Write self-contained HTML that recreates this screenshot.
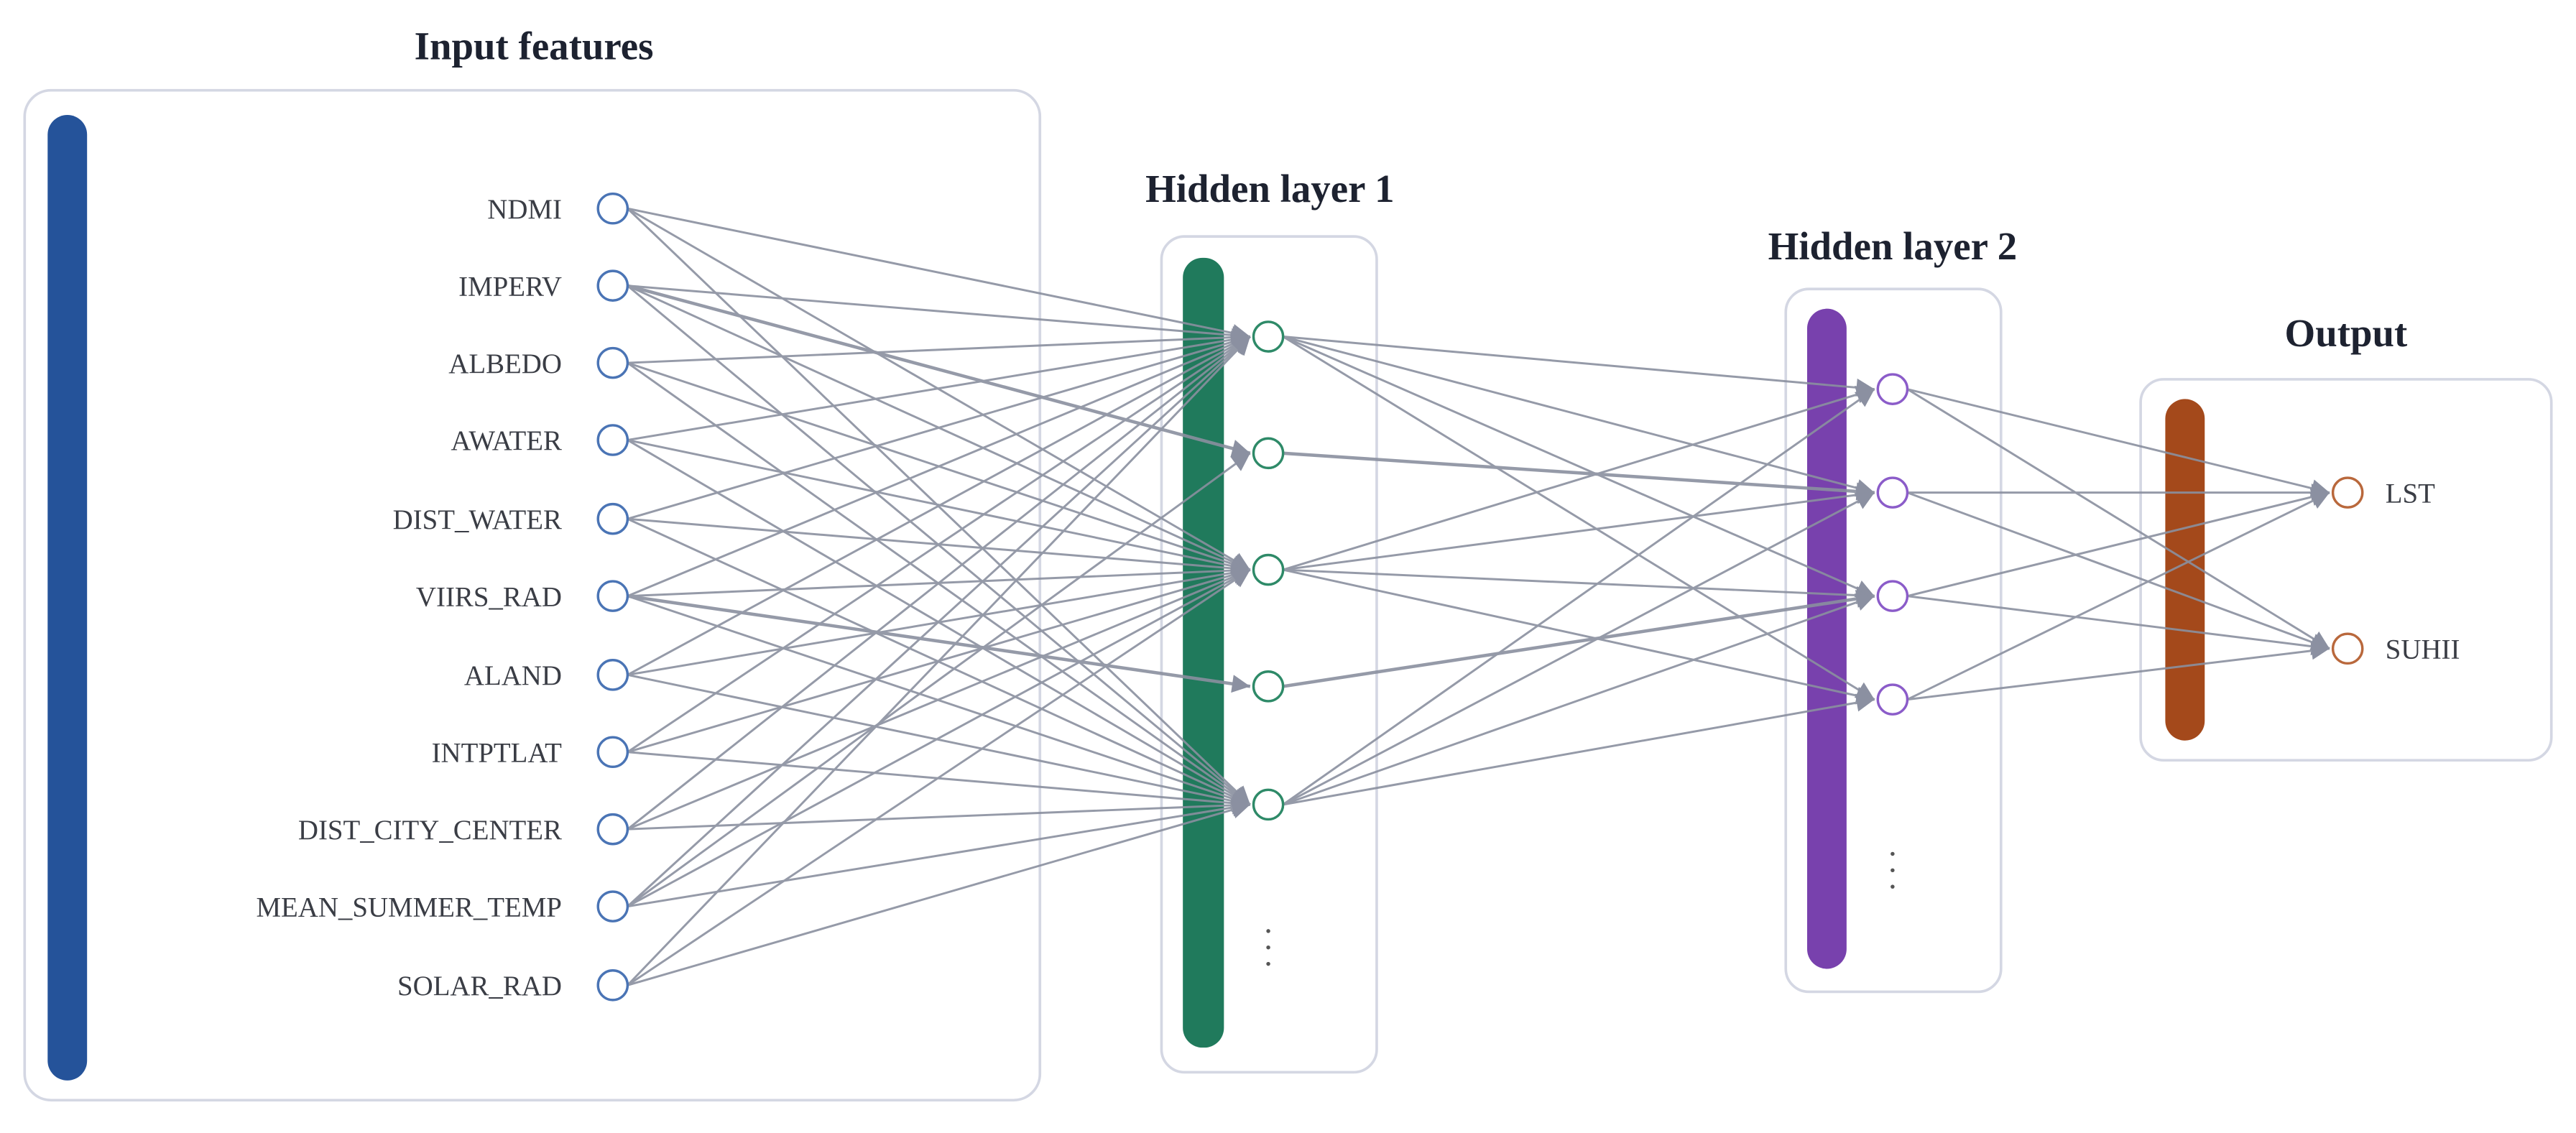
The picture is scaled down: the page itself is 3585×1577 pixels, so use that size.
<!DOCTYPE html>
<html><head><meta charset="utf-8"><style>
html,body{margin:0;padding:0;background:#fff;}
svg{display:block;}
</style></head><body>
<svg width="3585" height="1577" viewBox="0 0 1568 690" preserveAspectRatio="none" xmlns="http://www.w3.org/2000/svg">
<defs>
<marker id="a" viewBox="0 0 10 10" refX="10" refY="5" markerWidth="13" markerHeight="11" orient="auto" markerUnits="userSpaceOnUse">
<path d="M0,0 L10,5 L0,10 z" fill="#7f8597"/>
</marker>
</defs>
<rect x="0" y="0" width="1568" height="690" fill="#fff"/>
<g fill="none" stroke="#d4d7e3" stroke-width="1.6">
<rect x="15" y="55" width="618" height="615" rx="16"/>
<rect x="707" y="144" width="131" height="509" rx="14"/>
<rect x="1087" y="176" width="131" height="428" rx="14"/>
<rect x="1303" y="231" width="250" height="232" rx="14"/>
</g>
<rect x="29" y="70" width="24" height="588" rx="12" fill="#25539a"/>
<rect x="720" y="157" width="25" height="481" rx="12" fill="#207a5c"/>
<rect x="1100" y="188" width="24" height="402" rx="12" fill="#7841ad"/>
<rect x="1318" y="243" width="24" height="208" rx="12" fill="#a4491b"/>
<g font-family="'Liberation Serif',serif" font-weight="bold" font-size="24" fill="#1d2230" text-anchor="middle">
<text x="325" y="36">Input features</text>
<text x="773" y="123">Hidden layer 1</text>
<text x="1152" y="158">Hidden layer 2</text>
<text x="1428" y="211">Output</text>
</g>
<g id="edges" stroke="#8a909f" stroke-width="1.3" fill="none" marker-end="url(#a)" opacity="0.9"></g>
<g id="nodes"></g>
<g font-family="'Liberation Serif',serif" font-size="17" fill="#3a3d45" text-anchor="end" id="labels"></g>
<g font-family="'Liberation Serif',serif" font-size="17" fill="#3a3d45">
<text x="1452" y="306">LST</text>
<text x="1452" y="401">SUHII</text>
</g>
<g fill="#555">
<circle cx="772" cy="567" r="1.2"/><circle cx="772" cy="577" r="1.2"/><circle cx="772" cy="587" r="1.2"/>
<circle cx="1152" cy="520" r="1.2"/><circle cx="1152" cy="530" r="1.2"/><circle cx="1152" cy="540" r="1.2"/>
</g>
<script>
(function(){
var NS="http://www.w3.org/2000/svg";
var names=["NDMI","IMPERV","ALBEDO","AWATER","DIST_WATER","VIIRS_RAD","ALAND","INTPTLAT","DIST_CITY_CENTER","MEAN_SUMMER_TEMP","SOLAR_RAD"];
var iy=[127,174,221,268,316,363,411,458,505,552,600];
var h1=[205,276,347,418,490],h2=[237,300,363,426],o=[300,395];
var E=document.getElementById("edges"),N=document.getElementById("nodes"),L=document.getElementById("labels");
function line(x1,y1,x2,y2,w){var l=document.createElementNS(NS,"line");l.setAttribute("x1",x1);l.setAttribute("y1",y1);l.setAttribute("x2",x2);l.setAttribute("y2",y2);if(w)l.setAttribute("stroke-width",w);E.appendChild(l);}
function circ(x,y,c){var e=document.createElementNS(NS,"circle");e.setAttribute("cx",x);e.setAttribute("cy",y);e.setAttribute("r",9);e.setAttribute("fill","#fff");e.setAttribute("stroke",c);e.setAttribute("stroke-width",1.5);N.appendChild(e);}
iy.forEach(function(y){[0,2,4].forEach(function(j){line(382,y,761,h1[j]);});});
line(382,174,761,276,2);line(382,552,761,276);line(382,363,761,418,2);
var c1={0:[0,1,2,3],1:[1],2:[0,1,2,3],3:[2],4:[0,1,2,3]};
for(var j in c1)c1[j].forEach(function(k){line(781,h1[j],1141,h2[k],(j==1||j==3)?2:1.3);});
h2.forEach(function(y){o.forEach(function(z){line(1161,y,1418,z);});});
iy.forEach(function(y,i){circ(373,y,"#4a74b5");var t=document.createElementNS(NS,"text");t.setAttribute("x",342);t.setAttribute("y",y+6);t.textContent=names[i];L.appendChild(t);});
h1.forEach(function(y){circ(772,y,"#2e8a68");});
h2.forEach(function(y){circ(1152,y,"#8b5cc9");});
o.forEach(function(y){circ(1429,y,"#b9683c");});
})();
</script>
</svg>
</body></html>
